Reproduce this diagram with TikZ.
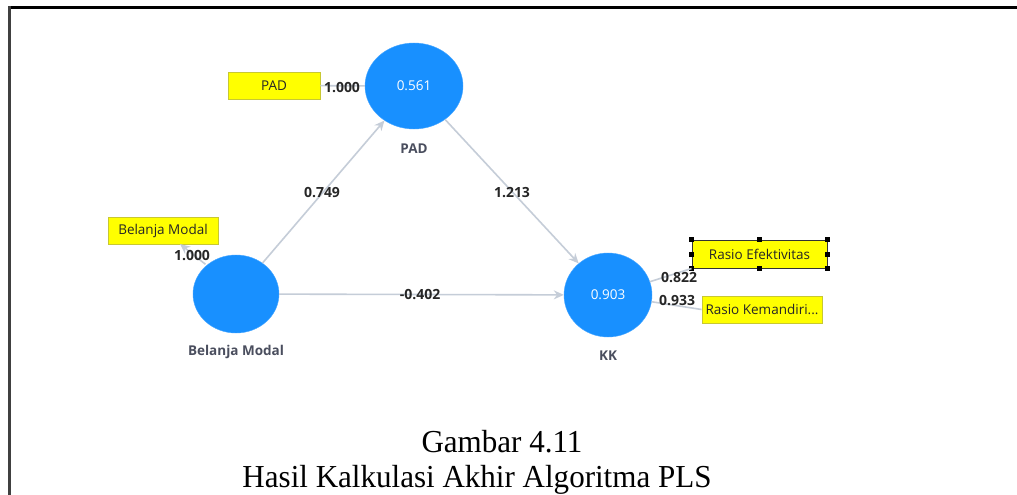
\documentclass[tikz,border=0pt]{standalone}
\usepackage{fontspec}
\setmainfont{Liberation Serif}
\newfontfamily\uifont{Open Sans}
\usetikzlibrary{arrows.meta,shapes.geometric}
\definecolor{lvblue}{HTML}{1890FF}
\definecolor{pathgray}{HTML}{C5CDD8}
\definecolor{boxyellow}{HTML}{FFFF00}
\definecolor{boxedge}{HTML}{C8C832}
\definecolor{lvtext}{HTML}{4A4E5E}
\tikzset{
  latent/.style={ellipse, fill=lvblue, draw=lvblue!80, text=white, inner sep=0pt,
    font=\uifont\fontsize{13.5}{15}\selectfont},
  indicator/.style={rectangle, fill=boxyellow, draw=boxedge, line width=0.8pt, inner sep=0pt,
    font=\uifont\fontsize{13.5}{15}\selectfont, text=black!85},
  lvname/.style={font=\uifont\bfseries\fontsize{13.5}{15}\selectfont, text=lvtext},
  coef/.style={font=\uifont\bfseries\fontsize{14}{16}\selectfont, text=black!85, inner sep=1pt},
  path/.style={draw=pathgray, line width=1.6pt, -{Stealth[length=10pt,width=9pt]}},
  outer/.style={draw=pathgray, line width=1.6pt},
  handle/.style={fill=black, minimum size=5pt, inner sep=0pt},
  caption/.style={font=\fontsize{32}{36}\selectfont, text=black, xscale=0.97, anchor=base, inner sep=0pt}
}
\begin{document}
\begin{tikzpicture}[x=1pt, y=-1pt]
\useasboundingbox (0,0) rectangle (1017,495);
\fill[white] (0,0) rectangle (1017,495);
% page frame
\draw[black, line width=2.2pt] (8,7.5) -- (1017,7.5);
\draw[black!75, line width=2.6pt] (9.5,6.5) -- (9.5,495);

% latent variables
\node[latent, minimum width=98pt, minimum height=86pt] (pad) at (414,86) {0.561};
\node[latent, minimum width=86pt, minimum height=78pt] (bm) at (236,294) {};
\node[latent, minimum width=88pt, minimum height=84pt] (kk) at (608,295) {0.903};
\node[lvname] (padname) at (414,149) {PAD};
\node[lvname] (bmname) at (236,352) {Belanja Modal};
\node[lvname] (kkname) at (608,356) {KK};

% indicators
\node[indicator, minimum width=92pt, minimum height=27pt] (ipad) at (274,85.5) {PAD};
\node[indicator, minimum width=110pt, minimum height=27pt] (ibm) at (163,230.5) {Belanja Modal};
\node[indicator, draw=black!80, line width=1pt, minimum width=135pt, minimum height=28pt] (ire) at (759.5,254) {Rasio Efektivitas};
\node[indicator, minimum width=120pt, minimum height=27pt] (irk) at (762,309.5) {Rasio Kemandiri...};
\foreach \a in {north west,north,north east,east,south east,south,south west,west}
  \node[handle] at (ire.\a) {};

% outer model
\draw[outer] (pad) -- (ipad);
\draw[path] (bm.north west) ++(0,-2) -- (180,244);
\draw[outer] (kk) -- (ire.south west);
\draw[outer] (kk) -- (irk.west);

% inner model
\draw[path] (bm) -- (pad);
\draw[path] (pad) -- (kk);
\draw[path] (bm) -- (kk);

% coefficients
\node[coef] (c1) at (342,88) {1.000};
\node[coef] (c2) at (192,256) {1.000};
\node[coef] (c3) at (322,193) {0.749};
\node[coef] (c4) at (512,193) {1.213};
\node[coef] (c5) at (420,295) {-0.402};
\node[coef] (c6) at (679,278) {0.822};
\node[coef] (c7) at (677,301) {0.933};

% caption
\node[caption] (cap1) at (502,452) {Gambar 4.11};
\node[caption] (cap2) at (477,487) {Hasil Kalkulasi Akhir Algoritma PLS};
\end{tikzpicture}
\end{document}
